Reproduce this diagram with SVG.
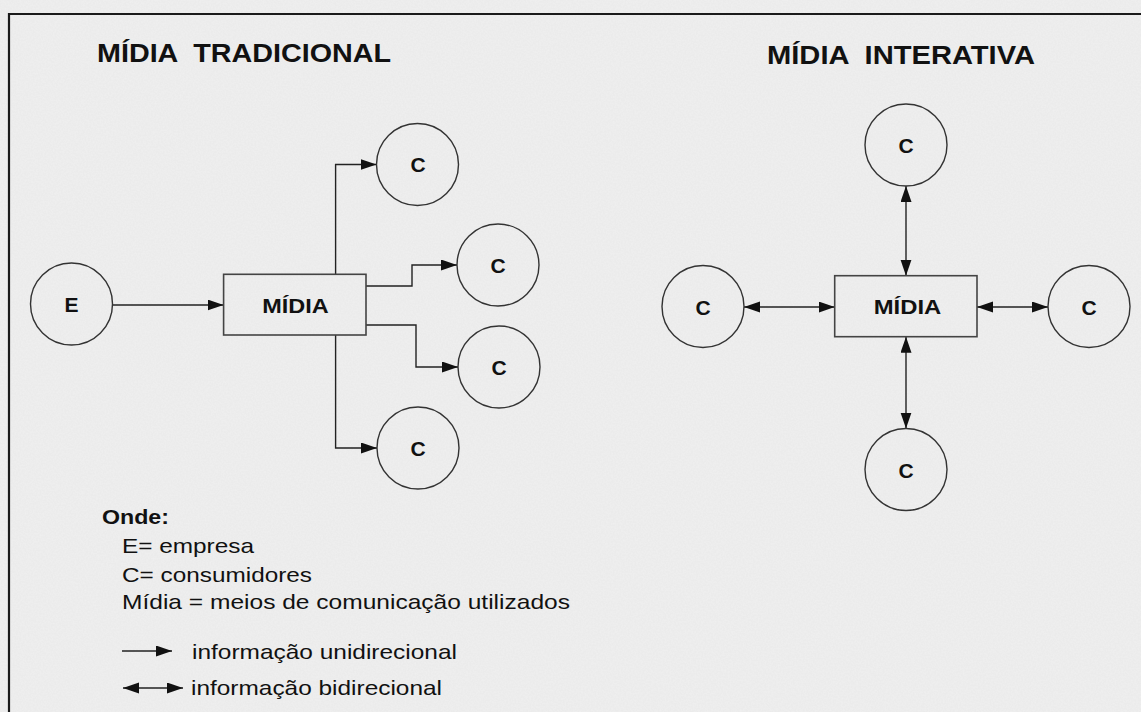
<svg xmlns="http://www.w3.org/2000/svg" width="1141" height="712" viewBox="0 0 1141 712">
  <defs>
    <filter id="paper" x="0" y="0" width="100%" height="100%">
      <feTurbulence type="fractalNoise" baseFrequency="0.6" numOctaves="2" seed="3" result="n"/>
      <feColorMatrix in="n" type="matrix" values="0 0 0 0 0.9  0 0 0 0 0.9  0 0 0 0 0.9  0 0 0 -0.9 0.6" result="c"/>
      <feComposite in="c" in2="SourceGraphic" operator="over"/>
    </filter>
    <marker id="ah" markerUnits="userSpaceOnUse" markerWidth="17" markerHeight="12" refX="16" refY="5.5" orient="auto-start-reverse">
      <path d="M0,0 L16,5.5 L0,11 z" fill="#111"/>
    </marker>
    <style>
      .t { font-family: "Liberation Sans", Arial, sans-serif; fill: #111; }
      .title { font-size: 26px; font-weight: bold; white-space: pre; }
      .lbl { font-size: 21px; font-weight: bold; text-anchor: middle; }
      .leg { font-size: 21px; }
      .node circle { fill: none; stroke: #333; stroke-width: 1.4; }
      .node rect { fill: none; stroke: #444; stroke-width: 1.6; }
      .conn path { fill: none; stroke: #222; stroke-width: 1.4; }
    </style>
  </defs>

  <rect x="0" y="0" width="1141" height="712" fill="#ebebeb" filter="url(#paper)"/>
  <path d="M9,712 V14 H1141" fill="none" stroke="#1a1a1a" stroke-width="2.2"/>

  <text class="t title" x="97" y="62" textLength="294" lengthAdjust="spacingAndGlyphs">MÍDIA  TRADICIONAL</text>
  <text class="t title" x="767" y="64" textLength="268" lengthAdjust="spacingAndGlyphs">MÍDIA  INTERATIVA</text>

  <g id="conn" class="conn">
    <path d="M112,305 H223.6" marker-end="url(#ah)"/>
    <path d="M335.6,274.3 V164.5 H376.5" marker-end="url(#ah)"/>
    <path d="M366,286 H412 V265 H457" marker-end="url(#ah)"/>
    <path d="M366,325 H416 V367 H458" marker-end="url(#ah)"/>
    <path d="M335.6,335 V448 H377" marker-end="url(#ah)"/>
    <path d="M906,186 V275.7" marker-start="url(#ah)" marker-end="url(#ah)"/>
    <path d="M906,336.7 V428.5" marker-start="url(#ah)" marker-end="url(#ah)"/>
    <path d="M744,307 H834.7" marker-start="url(#ah)" marker-end="url(#ah)"/>
    <path d="M977,307 H1048" marker-start="url(#ah)" marker-end="url(#ah)"/>
  </g>

  <g id="n-e" class="node"><circle cx="71.5" cy="304" r="41"/><text class="t lbl" x="71.5" y="312">E</text></g>
  <g id="n-midia-trad" class="node"><rect x="223.6" y="274.3" width="142.4" height="60.7"/><text class="t lbl" x="295.5" y="313" font-size="20" textLength="66.5" lengthAdjust="spacingAndGlyphs">MÍDIA</text></g>
  <g id="n-c1" class="node"><circle cx="417.5" cy="164.5" r="41"/><text class="t lbl" x="418" y="172">C</text></g>
  <g id="n-c2" class="node"><circle cx="498" cy="265" r="41"/><text class="t lbl" x="498" y="273">C</text></g>
  <g id="n-c3" class="node"><circle cx="499" cy="367" r="41"/><text class="t lbl" x="499" y="375">C</text></g>
  <g id="n-c4" class="node"><circle cx="418" cy="448" r="41"/><text class="t lbl" x="418" y="456">C</text></g>

  <g id="n-midia-int" class="node"><rect x="834.7" y="275.7" width="142.3" height="61"/><text class="t lbl" x="907.5" y="313.5" font-size="20" textLength="67.5" lengthAdjust="spacingAndGlyphs">MÍDIA</text></g>
  <g id="n-ct" class="node"><circle cx="906" cy="145" r="41"/><text class="t lbl" x="906" y="153">C</text></g>
  <g id="n-cl" class="node"><circle cx="703" cy="306.5" r="41"/><text class="t lbl" x="703" y="314.5">C</text></g>
  <g id="n-cr" class="node"><circle cx="1089" cy="306.5" r="41"/><text class="t lbl" x="1089" y="314.5">C</text></g>
  <g id="n-cb" class="node"><circle cx="906" cy="469.5" r="41"/><text class="t lbl" x="906" y="477.5">C</text></g>

  <g id="legend">
    <text class="t leg" x="102" y="524" font-weight="bold" textLength="67" lengthAdjust="spacingAndGlyphs">Onde:</text>
    <text class="t leg" x="122" y="553" textLength="132" lengthAdjust="spacingAndGlyphs">E= empresa</text>
    <text class="t leg" x="122" y="582" textLength="190" lengthAdjust="spacingAndGlyphs">C= consumidores</text>
    <text class="t leg" x="122" y="609" textLength="448" lengthAdjust="spacingAndGlyphs">Mídia = meios de comunicação utilizados</text>
    <g class="conn">
      <path d="M122,651 H172" marker-end="url(#ah)"/>
      <path d="M123,688 H183" marker-start="url(#ah)" marker-end="url(#ah)"/>
    </g>
    <text class="t leg" x="192" y="659" textLength="265" lengthAdjust="spacingAndGlyphs">informação unidirecional</text>
    <text class="t leg" x="191" y="695" textLength="251" lengthAdjust="spacingAndGlyphs">informação bidirecional</text>
  </g>
</svg>
